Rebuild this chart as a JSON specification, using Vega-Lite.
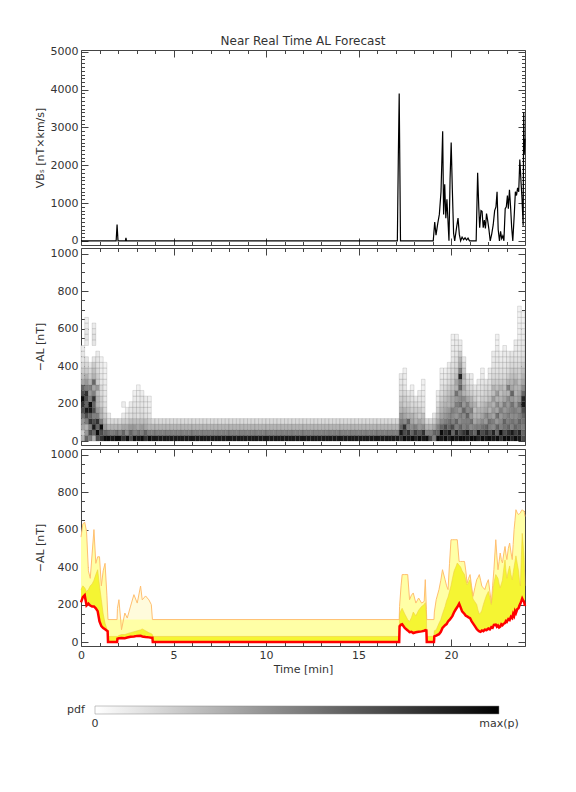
{
"$schema":"https://vega.github.io/schema/vega-lite/v6.json",
"background":"white",
"padding":{"left":34,"top":34,"right":10,"bottom":10},
"config":{
 "font":"DejaVu Sans",
 "view":{"stroke":null},
 "concat":{"spacing":1},
 "axis":{"grid":false,"labelFont":"DejaVu Sans","labelFontSize":11,"labelColor":"#333","titleFont":"DejaVu Sans","titleFontSize":11,"titleFontWeight":"normal","titleColor":"#333","domainColor":"#444","tickColor":"#444","domainWidth":1,"tickWidth":1,"labelOverlap":false,"labelFlush":false},
 "title":{"font":"DejaVu Sans","fontSize":12,"fontWeight":"normal","color":"#333"}
},
"datasets":{
 "vbs":[
  {"t":0,"v":0},{"t":1.9,"v":0},{"t":1.95,"v":430},{"t":2.0,"v":0},{"t":2.4,"v":0},{"t":2.43,"v":80},{"t":2.46,"v":0},
  {"t":17.1,"v":0},{"t":17.15,"v":2100},{"t":17.2,"v":3900},{"t":17.27,"v":0},
  {"t":19.04,"v":0},{"t":19.12,"v":500},{"t":19.19,"v":150},{"t":19.28,"v":450},{"t":19.37,"v":700},{"t":19.46,"v":1300},{"t":19.55,"v":2900},{"t":19.6,"v":700},{"t":19.66,"v":1500},{"t":19.72,"v":600},{"t":19.78,"v":1100},{"t":19.84,"v":500},{"t":19.89,"v":0},{"t":19.95,"v":1650},{"t":20.01,"v":2600},{"t":20.07,"v":1400},{"t":20.14,"v":200},{"t":20.2,"v":0},{"t":20.3,"v":350},{"t":20.38,"v":600},{"t":20.45,"v":170},{"t":20.52,"v":0},{"t":20.6,"v":100},{"t":20.68,"v":30},{"t":20.76,"v":80},{"t":20.84,"v":20},{"t":20.92,"v":70},{"t":21.0,"v":0},
  {"t":21.36,"v":0},{"t":21.44,"v":1800},{"t":21.5,"v":900},{"t":21.55,"v":350},{"t":21.62,"v":800},{"t":21.68,"v":780},{"t":21.74,"v":350},{"t":21.8,"v":550},{"t":21.86,"v":330},{"t":21.92,"v":720},{"t":21.98,"v":550},{"t":22.05,"v":300},{"t":22.12,"v":0},{"t":22.2,"v":180},{"t":22.28,"v":420},{"t":22.36,"v":800},{"t":22.43,"v":900},{"t":22.49,"v":1300},{"t":22.55,"v":300},{"t":22.62,"v":0},{"t":22.68,"v":250},{"t":22.74,"v":60},{"t":22.8,"v":130},{"t":22.86,"v":0},{"t":22.93,"v":850},{"t":22.99,"v":900},{"t":23.05,"v":1200},{"t":23.1,"v":850},{"t":23.16,"v":1350},{"t":23.22,"v":900},{"t":23.28,"v":350},{"t":23.34,"v":0},{"t":23.42,"v":700},{"t":23.48,"v":1300},{"t":23.54,"v":1200},{"t":23.6,"v":1400},{"t":23.66,"v":1300},{"t":23.72,"v":2150},{"t":23.78,"v":1600},{"t":23.84,"v":1100},{"t":23.9,"v":400},{"t":23.93,"v":3400},{"t":23.96,"v":2300},{"t":24.0,"v":2700}
 ],
 "heat":[
  {"t":0.1,"a":[15,45,75,105,135,165,195,225,255,285,315,345,375,405,435,465,495],"p":[0.3,0.2,0.35,0.4,0.55,0.7,0.8,0.95,0.7,0.6,0.35,0.25,0.2,0.15,0.1,0.1,0.08]},
  {"t":0.3,"a":[15,45,75,105,135,165,195,225,255,285,315,345,375,405,435,525,555,585,615,645],"p":[0.6,0.4,0.3,0.5,0.7,0.9,0.6,0.7,0.8,0.5,0.4,0.3,0.2,0.15,0.1,0.08,0.1,0.1,0.08,0.06]},
  {"t":0.5,"a":[15,45,75,105,135,165,195,225,255,285,315,345,375,405],"p":[0.5,0.7,0.5,0.8,0.6,0.9,0.95,0.5,0.4,0.5,0.3,0.2,0.15,0.1]},
  {"t":0.7,"a":[15,45,75,105,135,165,195,225,255,285,315,345,375,405,435,525,555,585,615],"p":[0.3,0.6,0.9,0.7,0.5,0.7,0.6,0.8,0.5,0.35,0.6,0.3,0.25,0.2,0.1,0.1,0.12,0.1,0.08]},
  {"t":0.9,"a":[15,45,75,105,135,165,195,225,255,285,315,345,375,405,435,465],"p":[0.7,0.95,0.6,0.8,0.5,0.4,0.3,0.3,0.25,0.4,0.2,0.2,0.15,0.12,0.1,0.08]},
  {"t":1.1,"a":[15,45,75,105,135,165,195,225,255,285,315,345,375,405,435],"p":[0.8,0.7,0.95,0.5,0.3,0.3,0.2,0.2,0.15,0.15,0.1,0.1,0.08,0.08,0.06]},
  {"t":1.3,"a":[15,45,75,105,135,165,195,225,255,285,315,345,375,405],"p":[0.95,0.6,0.4,0.3,0.2,0.15,0.12,0.1,0.1,0.08,0.08,0.06,0.06,0.05]},
  {"t":1.5,"a":[15,45,75,105,135],"p":[0.95,0.55,0.3,0.15,0.08]},
  {"t":1.7,"a":[15,45,75,105],"p":[0.9,0.5,0.3,0.15]},
  {"t":1.9,"a":[15,45,75,105],"p":[0.95,0.55,0.3,0.15]},
  {"t":2.1,"a":[15,45,75,105],"p":[0.95,0.5,0.3,0.15]},
  {"t":2.3,"a":[15,45,75,105,135,195],"p":[0.8,0.6,0.35,0.2,0.08,0.07]},
  {"t":2.5,"a":[15,45,75,105,135,165],"p":[0.95,0.45,0.35,0.2,0.1,0.07]},
  {"t":2.7,"a":[15,45,75,105,135,165,195],"p":[0.7,0.6,0.4,0.25,0.12,0.1,0.08]},
  {"t":2.9,"a":[15,45,75,105,135,165,195,225,255],"p":[0.95,0.5,0.4,0.25,0.15,0.12,0.1,0.08,0.06]},
  {"t":3.1,"a":[15,45,75,105,135,165,195,225,255,285],"p":[0.9,0.55,0.35,0.25,0.12,0.12,0.1,0.08,0.07,0.05]},
  {"t":3.3,"a":[15,45,75,105,135,165,195,225,255],"p":[0.95,0.5,0.4,0.25,0.15,0.12,0.1,0.1,0.07]},
  {"t":3.5,"a":[15,45,75,105,135,165,195,225],"p":[0.8,0.6,0.35,0.25,0.12,0.1,0.08,0.08]},
  {"t":3.7,"a":[15,45,75,105,135,165,195,225],"p":[0.95,0.5,0.3,0.2,0.1,0.08,0.07,0.06]},
  {"t":3.9,"a":[15,45,75,105],"p":[0.9,0.5,0.3,0.15]},
  {"t":4.1,"a":[15,45,75,105],"p":[0.9,0.5,0.3,0.15]},
  {"t":4.3,"a":[15,45,75,105],"p":[0.9,0.5,0.3,0.15]},
  {"t":4.5,"a":[15,45,75,105],"p":[0.9,0.5,0.3,0.15]},
  {"t":4.7,"a":[15,45,75,105],"p":[0.9,0.5,0.3,0.15]},
  {"t":4.9,"a":[15,45,75,105],"p":[0.9,0.5,0.3,0.15]},
  {"t":5.1,"a":[15,45,75,105],"p":[0.9,0.5,0.3,0.15]},
  {"t":5.3,"a":[15,45,75,105],"p":[0.9,0.5,0.3,0.15]},
  {"t":5.5,"a":[15,45,75,105],"p":[0.9,0.5,0.3,0.15]},
  {"t":5.7,"a":[15,45,75,105],"p":[0.9,0.5,0.3,0.15]},
  {"t":5.9,"a":[15,45,75,105],"p":[0.9,0.5,0.3,0.15]},
  {"t":6.1,"a":[15,45,75,105],"p":[0.9,0.5,0.3,0.15]},
  {"t":6.3,"a":[15,45,75,105],"p":[0.9,0.5,0.3,0.15]},
  {"t":6.5,"a":[15,45,75,105],"p":[0.9,0.5,0.3,0.15]},
  {"t":6.7,"a":[15,45,75,105],"p":[0.9,0.5,0.3,0.15]},
  {"t":6.9,"a":[15,45,75,105],"p":[0.9,0.5,0.3,0.15]},
  {"t":7.1,"a":[15,45,75,105],"p":[0.9,0.5,0.3,0.15]},
  {"t":7.3,"a":[15,45,75,105],"p":[0.9,0.5,0.3,0.15]},
  {"t":7.5,"a":[15,45,75,105],"p":[0.9,0.5,0.3,0.15]},
  {"t":7.7,"a":[15,45,75,105],"p":[0.9,0.5,0.3,0.15]},
  {"t":7.9,"a":[15,45,75,105],"p":[0.9,0.5,0.3,0.15]},
  {"t":8.1,"a":[15,45,75,105],"p":[0.9,0.5,0.3,0.15]},
  {"t":8.3,"a":[15,45,75,105],"p":[0.9,0.5,0.3,0.15]},
  {"t":8.5,"a":[15,45,75,105],"p":[0.9,0.5,0.3,0.15]},
  {"t":8.7,"a":[15,45,75,105],"p":[0.9,0.5,0.3,0.15]},
  {"t":8.9,"a":[15,45,75,105],"p":[0.9,0.5,0.3,0.15]},
  {"t":9.1,"a":[15,45,75,105],"p":[0.9,0.5,0.3,0.15]},
  {"t":9.3,"a":[15,45,75,105],"p":[0.9,0.5,0.3,0.15]},
  {"t":9.5,"a":[15,45,75,105],"p":[0.9,0.5,0.3,0.15]},
  {"t":9.7,"a":[15,45,75,105],"p":[0.9,0.5,0.3,0.15]},
  {"t":9.9,"a":[15,45,75,105],"p":[0.9,0.5,0.3,0.15]},
  {"t":10.1,"a":[15,45,75,105],"p":[0.9,0.5,0.3,0.15]},
  {"t":10.3,"a":[15,45,75,105],"p":[0.9,0.5,0.3,0.15]},
  {"t":10.5,"a":[15,45,75,105],"p":[0.9,0.5,0.3,0.15]},
  {"t":10.7,"a":[15,45,75,105],"p":[0.9,0.5,0.3,0.15]},
  {"t":10.9,"a":[15,45,75,105],"p":[0.9,0.5,0.3,0.15]},
  {"t":11.1,"a":[15,45,75,105],"p":[0.9,0.5,0.3,0.15]},
  {"t":11.3,"a":[15,45,75,105],"p":[0.9,0.5,0.3,0.15]},
  {"t":11.5,"a":[15,45,75,105],"p":[0.9,0.5,0.3,0.15]},
  {"t":11.7,"a":[15,45,75,105],"p":[0.9,0.5,0.3,0.15]},
  {"t":11.9,"a":[15,45,75,105],"p":[0.9,0.5,0.3,0.15]},
  {"t":12.1,"a":[15,45,75,105],"p":[0.9,0.5,0.3,0.15]},
  {"t":12.3,"a":[15,45,75,105],"p":[0.9,0.5,0.3,0.15]},
  {"t":12.5,"a":[15,45,75,105],"p":[0.9,0.5,0.3,0.15]},
  {"t":12.7,"a":[15,45,75,105],"p":[0.9,0.5,0.3,0.15]},
  {"t":12.9,"a":[15,45,75,105],"p":[0.9,0.5,0.3,0.15]},
  {"t":13.1,"a":[15,45,75,105],"p":[0.9,0.5,0.3,0.15]},
  {"t":13.3,"a":[15,45,75,105],"p":[0.9,0.5,0.3,0.15]},
  {"t":13.5,"a":[15,45,75,105],"p":[0.9,0.5,0.3,0.15]},
  {"t":13.7,"a":[15,45,75,105],"p":[0.9,0.5,0.3,0.15]},
  {"t":13.9,"a":[15,45,75,105],"p":[0.9,0.5,0.3,0.15]},
  {"t":14.1,"a":[15,45,75,105],"p":[0.9,0.5,0.3,0.15]},
  {"t":14.3,"a":[15,45,75,105],"p":[0.9,0.5,0.3,0.15]},
  {"t":14.5,"a":[15,45,75,105],"p":[0.9,0.5,0.3,0.15]},
  {"t":14.7,"a":[15,45,75,105],"p":[0.9,0.5,0.3,0.15]},
  {"t":14.9,"a":[15,45,75,105],"p":[0.9,0.5,0.3,0.15]},
  {"t":15.1,"a":[15,45,75,105],"p":[0.9,0.5,0.3,0.15]},
  {"t":15.3,"a":[15,45,75,105],"p":[0.9,0.5,0.3,0.15]},
  {"t":15.5,"a":[15,45,75,105],"p":[0.9,0.5,0.3,0.15]},
  {"t":15.7,"a":[15,45,75,105],"p":[0.9,0.5,0.3,0.15]},
  {"t":15.9,"a":[15,45,75,105],"p":[0.9,0.5,0.3,0.15]},
  {"t":16.1,"a":[15,45,75,105],"p":[0.9,0.5,0.3,0.15]},
  {"t":16.3,"a":[15,45,75,105],"p":[0.9,0.5,0.3,0.15]},
  {"t":16.5,"a":[15,45,75,105],"p":[0.9,0.5,0.3,0.15]},
  {"t":16.7,"a":[15,45,75,105],"p":[0.9,0.5,0.3,0.15]},
  {"t":16.9,"a":[15,45,75,105],"p":[0.9,0.5,0.3,0.15]},
  {"t":17.1,"a":[15,45,75,105],"p":[0.9,0.5,0.3,0.15]},
  {"t":17.3,"a":[15,45,75,105,135,165,195,225,255,285,315,345],"p":[0.8,0.9,0.6,0.5,0.4,0.3,0.25,0.2,0.15,0.12,0.1,0.08]},
  {"t":17.5,"a":[15,45,75,105,135,165,195,225,255,285,315,345,375],"p":[0.95,0.7,0.8,0.45,0.35,0.3,0.2,0.2,0.15,0.1,0.08,0.08,0.06]},
  {"t":17.7,"a":[15,45,75,105,135,165,195,225,255],"p":[0.9,0.8,0.5,0.6,0.3,0.25,0.2,0.15,0.1]},
  {"t":17.9,"a":[15,45,75,105,135,165,195,225,255,285],"p":[0.95,0.6,0.45,0.35,0.3,0.2,0.15,0.12,0.1,0.06]},
  {"t":18.1,"a":[15,45,75,105,135,165,195,225],"p":[0.85,0.75,0.5,0.3,0.25,0.2,0.15,0.1]},
  {"t":18.3,"a":[15,45,75,105,135,165,195,225,255],"p":[0.95,0.65,0.4,0.35,0.2,0.2,0.12,0.1,0.08]},
  {"t":18.5,"a":[15,45,75,105,135,165,195,225,255,285,315],"p":[0.9,0.8,0.45,0.3,0.25,0.15,0.12,0.1,0.08,0.06,0.06]},
  {"t":18.7,"a":[15,45,75,105],"p":[0.95,0.5,0.3,0.15]},
  {"t":18.9,"a":[15,45,75,105],"p":[0.7,0.5,0.3,0.15]},
  {"t":19.1,"a":[15,45,75,105,135],"p":[0.5,0.6,0.35,0.2,0.1]},
  {"t":19.3,"a":[15,45,75,105,135,165,195,225,255],"p":[0.95,0.6,0.5,0.35,0.25,0.2,0.15,0.1,0.08]},
  {"t":19.5,"a":[15,45,75,105,135,165,195,225,255,285,315,345,375],"p":[0.9,0.95,0.6,0.45,0.35,0.3,0.25,0.2,0.15,0.12,0.1,0.08,0.06]},
  {"t":19.7,"a":[15,45,75,105,135,165,195,225,255,285,315,345,375],"p":[0.95,0.8,0.7,0.5,0.4,0.35,0.3,0.25,0.2,0.15,0.1,0.08,0.06]},
  {"t":19.9,"a":[15,45,75,105,135,165,195,225,255,285,315,345,375,405],"p":[0.85,0.9,0.6,0.55,0.45,0.4,0.3,0.3,0.25,0.2,0.15,0.12,0.1,0.08]},
  {"t":20.1,"a":[15,45,75,105,135,165,195,225,255,285,315,345,375,405,435,465,495,525,555],"p":[0.95,0.6,0.7,0.5,0.45,0.5,0.35,0.35,0.3,0.25,0.2,0.18,0.15,0.12,0.1,0.08,0.08,0.06,0.06]},
  {"t":20.3,"a":[15,45,75,105,135,165,195,225,255,285,315,345,375,405,435,465,495,525,555],"p":[0.9,0.85,0.5,0.6,0.4,0.45,0.5,0.4,0.55,0.3,0.35,0.25,0.2,0.15,0.12,0.1,0.08,0.08,0.06]},
  {"t":20.5,"a":[15,45,75,105,135,165,195,225,255,285,315,345,375,405,435,465,495,525],"p":[0.95,0.7,0.6,0.45,0.5,0.4,0.55,0.45,0.4,0.6,0.5,0.85,0.5,0.35,0.3,0.2,0.1,0.08]},
  {"t":20.7,"a":[15,45,75,105,135,165,195,225,255,285,315,345,375,405,435],"p":[0.95,0.8,0.5,0.5,0.45,0.6,0.4,0.45,0.3,0.35,0.25,0.3,0.2,0.15,0.1]},
  {"t":20.9,"a":[15,45,75,105,135,165,195,225,255,285,315,345],"p":[0.9,0.9,0.55,0.5,0.6,0.45,0.5,0.35,0.25,0.2,0.15,0.1]},
  {"t":21.1,"a":[15,45,75,105,135,165,195,225,255,285,315,345],"p":[0.95,0.7,0.45,0.55,0.4,0.5,0.35,0.3,0.2,0.15,0.1,0.08]},
  {"t":21.3,"a":[15,45,75,105,135,165,195,225,255,285],"p":[0.95,0.6,0.5,0.35,0.3,0.25,0.3,0.2,0.15,0.1]},
  {"t":21.5,"a":[15,45,75,105,135,165,195,225,255,285,315],"p":[0.85,0.9,0.5,0.4,0.3,0.3,0.2,0.15,0.15,0.1,0.08]},
  {"t":21.7,"a":[15,45,75,105,135,165,195,225,255,285,315,345,375],"p":[0.95,0.7,0.55,0.45,0.35,0.3,0.25,0.2,0.15,0.12,0.1,0.08,0.06]},
  {"t":21.9,"a":[15,45,75,105,135,165,195,225,255,285,315],"p":[0.9,0.8,0.6,0.4,0.45,0.35,0.3,0.2,0.18,0.15,0.1]},
  {"t":22.1,"a":[15,45,75,105,135,165,195,225,255,285,315,345,375],"p":[0.95,0.7,0.5,0.55,0.4,0.3,0.35,0.25,0.2,0.15,0.12,0.1,0.08]},
  {"t":22.3,"a":[15,45,75,105,135,165,195,225,255,285,315,345,375,405,435,465],"p":[0.9,0.85,0.45,0.5,0.35,0.4,0.3,0.4,0.25,0.3,0.2,0.15,0.12,0.1,0.08,0.08]},
  {"t":22.5,"a":[15,45,75,105,135,165,195,225,255,285,315,345,375,405,435,465,495,525,555],"p":[0.95,0.6,0.6,0.4,0.55,0.35,0.45,0.3,0.4,0.25,0.2,0.15,0.12,0.1,0.1,0.08,0.08,0.06,0.06]},
  {"t":22.7,"a":[15,45,75,105,135,165,195,225,255,285,315,345,375,405,435,465],"p":[0.8,0.95,0.5,0.45,0.4,0.5,0.35,0.3,0.25,0.3,0.2,0.15,0.12,0.1,0.08,0.06]},
  {"t":22.9,"a":[15,45,75,105,135,165,195,225,255,285,315,345,375,405,435,465,495],"p":[0.95,0.7,0.55,0.6,0.45,0.4,0.5,0.35,0.3,0.25,0.2,0.15,0.12,0.1,0.08,0.08,0.06]},
  {"t":23.1,"a":[15,45,75,105,135,165,195,225,255,285,315,345,375,405,435,465],"p":[0.95,0.8,0.6,0.5,0.5,0.45,0.4,0.45,0.3,0.5,0.3,0.2,0.15,0.12,0.1,0.08]},
  {"t":23.3,"a":[15,45,75,105,135,165,195,225,255,285,315,345,375,405,435,465],"p":[0.85,0.9,0.5,0.55,0.45,0.5,0.55,0.4,0.6,0.35,0.3,0.25,0.2,0.15,0.12,0.1]},
  {"t":23.5,"a":[15,45,75,105,135,165,195,225,255,285,315,345,375,405,435,465,495,525],"p":[0.95,0.75,0.6,0.5,0.45,0.5,0.4,0.35,0.3,0.3,0.35,0.25,0.2,0.15,0.12,0.1,0.08,0.08]},
  {"t":23.7,"a":[15,45,75,105,135,165,195,225,255,285,315,345,375,405,435,465,495,525,555,585,615,645,675,705],"p":[0.9,0.85,0.55,0.6,0.5,0.45,0.55,0.4,0.35,0.3,0.25,0.2,0.18,0.15,0.12,0.1,0.08,0.08,0.06,0.06,0.06,0.05,0.05,0.05]},
  {"t":23.9,"a":[15,45,75,105,135,165,195,225,255,285,315,345,375,405,435,465,495,525,555,585,615,645,675],"p":[0.7,0.6,0.5,0.55,0.6,0.7,0.9,0.85,0.6,0.45,0.35,0.3,0.25,0.2,0.15,0.12,0.1,0.1,0.08,0.08,0.06,0.06,0.05]}
 ],
 "band":[
  {"t":0,"m":212,"a":280,"b":560,"c":560},
  {"t":0.1,"m":240,"a":300,"b":630,"c":630},
  {"t":0.2,"m":250,"a":290,"b":640,"c":640},
  {"t":0.3,"m":195,"a":270,"b":590,"c":590},
  {"t":0.4,"m":205,"a":280,"b":380,"c":380},
  {"t":0.5,"m":195,"a":300,"b":340,"c":340},
  {"t":0.6,"m":190,"a":310,"b":470,"c":470},
  {"t":0.7,"m":190,"a":330,"b":600,"c":600},
  {"t":0.8,"m":180,"a":360,"b":420,"c":420},
  {"t":0.9,"m":165,"a":386,"b":455,"c":455},
  {"t":1.0,"m":110,"a":300,"b":455,"c":455},
  {"t":1.1,"m":85,"a":226,"b":300,"c":300},
  {"t":1.2,"m":75,"a":150,"b":380,"c":380},
  {"t":1.3,"m":68,"a":100,"b":420,"c":420},
  {"t":1.4,"m":60,"a":70,"b":250,"c":250},
  {"t":1.44,"m":58,"a":65,"b":160,"c":160},
  {"t":1.46,"m":0,"a":30,"b":120,"c":120},
  {"t":1.95,"m":0,"a":30,"b":120,"c":120},
  {"t":1.97,"m":18,"a":30,"b":120,"c":180},
  {"t":2.05,"m":20,"a":35,"b":120,"c":226},
  {"t":2.19,"m":22,"a":40,"b":120,"c":66},
  {"t":2.37,"m":21,"a":40,"b":120,"c":155},
  {"t":2.5,"m":24,"a":45,"b":120,"c":128},
  {"t":2.68,"m":28,"a":50,"b":120,"c":192},
  {"t":2.86,"m":30,"a":55,"b":120,"c":253},
  {"t":3.04,"m":33,"a":60,"b":120,"c":208},
  {"t":3.22,"m":34,"a":65,"b":120,"c":299},
  {"t":3.31,"m":30,"a":70,"b":120,"c":225},
  {"t":3.49,"m":27,"a":60,"b":120,"c":246},
  {"t":3.67,"m":25,"a":50,"b":120,"c":225},
  {"t":3.8,"m":23,"a":45,"b":120,"c":200},
  {"t":3.86,"m":23,"a":40,"b":120,"c":120},
  {"t":3.88,"m":0,"a":30,"b":120,"c":120},
  {"t":17.2,"m":0,"a":30,"b":120,"c":120},
  {"t":17.22,"m":84,"a":150,"b":190,"c":190},
  {"t":17.3,"m":93,"a":170,"b":300,"c":300},
  {"t":17.36,"m":95,"a":180,"b":360,"c":360},
  {"t":17.5,"m":75,"a":150,"b":360,"c":360},
  {"t":17.66,"m":62,"a":120,"b":360,"c":360},
  {"t":17.76,"m":53,"a":110,"b":226,"c":226},
  {"t":17.86,"m":55,"a":130,"b":250,"c":250},
  {"t":17.96,"m":48,"a":160,"b":262,"c":262},
  {"t":18.1,"m":52,"a":140,"b":208,"c":208},
  {"t":18.25,"m":55,"a":170,"b":235,"c":235},
  {"t":18.41,"m":57,"a":190,"b":208,"c":208},
  {"t":18.55,"m":60,"a":200,"b":217,"c":217},
  {"t":18.61,"m":64,"a":210,"b":333,"c":333},
  {"t":18.67,"m":62,"a":150,"b":173,"c":173},
  {"t":18.69,"m":0,"a":30,"b":120,"c":120},
  {"t":19.08,"m":0,"a":30,"b":120,"c":120},
  {"t":19.1,"m":30,"a":60,"b":160,"c":160},
  {"t":19.2,"m":34,"a":65,"b":226,"c":226},
  {"t":19.35,"m":42,"a":100,"b":280,"c":280},
  {"t":19.45,"m":55,"a":120,"b":330,"c":330},
  {"t":19.54,"m":75,"a":150,"b":386,"c":386},
  {"t":19.68,"m":90,"a":190,"b":333,"c":333},
  {"t":19.76,"m":96,"a":220,"b":300,"c":300},
  {"t":19.84,"m":110,"a":240,"b":280,"c":280},
  {"t":19.92,"m":118,"a":270,"b":420,"c":420},
  {"t":20.0,"m":128,"a":300,"b":546,"c":546},
  {"t":20.08,"m":140,"a":340,"b":546,"c":546},
  {"t":20.17,"m":160,"a":380,"b":546,"c":546},
  {"t":20.26,"m":175,"a":400,"b":546,"c":546},
  {"t":20.34,"m":187,"a":422,"b":546,"c":546},
  {"t":20.44,"m":205,"a":410,"b":430,"c":430},
  {"t":20.52,"m":185,"a":400,"b":430,"c":430},
  {"t":20.6,"m":164,"a":380,"b":430,"c":430},
  {"t":20.73,"m":150,"a":360,"b":430,"c":430},
  {"t":20.8,"m":140,"a":330,"b":380,"c":380},
  {"t":20.87,"m":137,"a":305,"b":315,"c":315},
  {"t":20.95,"m":132,"a":320,"b":340,"c":340},
  {"t":21.03,"m":128,"a":332,"b":360,"c":360},
  {"t":21.11,"m":112,"a":280,"b":300,"c":300},
  {"t":21.19,"m":100,"a":230,"b":244,"c":244},
  {"t":21.29,"m":85,"a":215,"b":290,"c":290},
  {"t":21.39,"m":70,"a":200,"b":333,"c":333},
  {"t":21.46,"m":62,"a":170,"b":345,"c":345},
  {"t":21.53,"m":57,"a":150,"b":360,"c":360},
  {"t":21.6,"m":55,"a":155,"b":330,"c":330},
  {"t":21.67,"m":62,"a":170,"b":297,"c":297},
  {"t":21.75,"m":58,"a":200,"b":290,"c":290},
  {"t":21.83,"m":66,"a":225,"b":280,"c":280},
  {"t":21.92,"m":64,"a":250,"b":310,"c":310},
  {"t":22.02,"m":72,"a":270,"b":333,"c":333},
  {"t":22.1,"m":68,"a":235,"b":270,"c":270},
  {"t":22.18,"m":80,"a":200,"b":208,"c":208},
  {"t":22.25,"m":76,"a":260,"b":300,"c":300},
  {"t":22.32,"m":92,"a":315,"b":386,"c":386},
  {"t":22.42,"m":93,"a":360,"b":546,"c":546},
  {"t":22.48,"m":82,"a":350,"b":460,"c":460},
  {"t":22.54,"m":88,"a":340,"b":386,"c":386},
  {"t":22.6,"m":78,"a":310,"b":430,"c":430},
  {"t":22.66,"m":82,"a":290,"b":475,"c":475},
  {"t":22.72,"m":95,"a":310,"b":440,"c":440},
  {"t":22.78,"m":90,"a":330,"b":422,"c":422},
  {"t":22.85,"m":98,"a":390,"b":470,"c":470},
  {"t":22.92,"m":101,"a":438,"b":510,"c":510},
  {"t":22.97,"m":112,"a":380,"b":470,"c":470},
  {"t":23.02,"m":108,"a":340,"b":440,"c":440},
  {"t":23.1,"m":123,"a":380,"b":500,"c":500},
  {"t":23.17,"m":118,"a":406,"b":528,"c":528},
  {"t":23.24,"m":135,"a":360,"b":480,"c":480},
  {"t":23.31,"m":128,"a":332,"b":440,"c":440},
  {"t":23.36,"m":150,"a":370,"b":520,"c":520},
  {"t":23.41,"m":140,"a":400,"b":600,"c":600},
  {"t":23.46,"m":165,"a":430,"b":650,"c":650},
  {"t":23.51,"m":155,"a":460,"b":706,"c":706},
  {"t":23.58,"m":175,"a":420,"b":690,"c":690},
  {"t":23.65,"m":180,"a":380,"b":680,"c":680},
  {"t":23.7,"m":195,"a":330,"b":685,"c":685},
  {"t":23.75,"m":205,"a":300,"b":689,"c":689},
  {"t":23.8,"m":218,"a":450,"b":700,"c":700},
  {"t":23.85,"m":232,"a":580,"b":706,"c":706},
  {"t":23.9,"m":222,"a":520,"b":700,"c":700},
  {"t":23.95,"m":215,"a":450,"b":700,"c":700},
  {"t":24.0,"m":192,"a":300,"b":670,"c":670}
 ]
},
"resolve":{"scale":{"x":"independent","y":"independent"}},
"vconcat":[
 {
  "width":444,"height":195,
  "title":{"text":"Near Real Time AL Forecast","offset":-2},
  "data":{"name":"vbs"},
  "layer":[
   {"mark":{"type":"line","color":"#000000","strokeWidth":1.2},
    "encoding":{
     "x":{"field":"t","type":"quantitative","scale":{"domain":[0,24],"nice":false,"zero":false},
      "axis":{"orient":"bottom","values":[0,1,2,3,4,5,6,7,8,9,10,11,12,13,14,15,16,17,18,19,20,21,22,23,24],"labels":false,"title":null,"tickSize":{"condition":{"test":"datum.value % 5 === 0","value":-7},"value":-3.5}}},
     "y":{"field":"v","type":"quantitative","scale":{"domain":[-110,5050],"nice":false,"zero":false},
      "axis":{"orient":"left","values":[0,100,200,300,400,500,600,700,800,900,1000,1100,1200,1300,1400,1500,1600,1700,1800,1900,2000,2100,2200,2300,2400,2500,2600,2700,2800,2900,3000,3100,3200,3300,3400,3500,3600,3700,3800,3900,4000,4100,4200,4300,4400,4500,4600,4700,4800,4900,5000],"format":"d","labelExpr":"datum.value % 1000 === 0 ? datum.label : ''","labelPadding":10,"title":"VBₛ [nT×km/s]","titleX":-41,"titleBaseline":"middle","tickSize":{"condition":{"test":"datum.value % 1000 === 0","value":-7},"value":-3.5}}}
    }},
   {"mark":{"type":"line","opacity":0},
    "encoding":{
     "x":{"field":"t","type":"quantitative",
      "axis":{"orient":"top","values":[0,1,2,3,4,5,6,7,8,9,10,11,12,13,14,15,16,17,18,19,20,21,22,23,24],"labels":false,"title":null,"tickSize":{"condition":{"test":"datum.value % 5 === 0","value":-7},"value":-3.5}}},
     "y":{"field":"v","type":"quantitative",
      "axis":{"orient":"right","values":[0,100,200,300,400,500,600,700,800,900,1000,1100,1200,1300,1400,1500,1600,1700,1800,1900,2000,2100,2200,2300,2400,2500,2600,2700,2800,2900,3000,3100,3200,3300,3400,3500,3600,3700,3800,3900,4000,4100,4200,4300,4400,4500,4600,4700,4800,4900,5000],"labels":false,"title":null,"tickSize":{"condition":{"test":"datum.value % 1000 === 0","value":-7},"value":-3.5}}}
    }}
  ]
 },
 {
  "width":444,"height":197,
  "data":{"name":"heat"},
  "transform":[{"flatten":["a","p"]}],
  "layer":[
   {"mark":{"type":"rect","width":3.7,"height":5.6,"stroke":"#000000","strokeOpacity":0.18,"strokeWidth":0.6},
    "encoding":{
     "x":{"field":"t","type":"quantitative","scale":{"domain":[0,24],"nice":false,"zero":false},
      "axis":{"orient":"bottom","values":[0,1,2,3,4,5,6,7,8,9,10,11,12,13,14,15,16,17,18,19,20,21,22,23,24],"labels":false,"title":null,"tickSize":{"condition":{"test":"datum.value % 5 === 0","value":-7},"value":-3.5}}},
     "y":{"field":"a","type":"quantitative","scale":{"domain":[-21,1030],"nice":false,"zero":false},
      "axis":{"orient":"left","values":[0,50,100,150,200,250,300,350,400,450,500,550,600,650,700,750,800,850,900,950,1000],"format":"d","labelExpr":"datum.value % 200 === 0 ? datum.label : ''","labelPadding":10,"title":"−AL [nT]","titleX":-41,"titleBaseline":"middle","tickSize":{"condition":{"test":"datum.value % 200 === 0","value":-7},"value":-3.5}}},
     "fill":{"field":"p","type":"quantitative","scale":{"domain":[0,1],"range":["#ffffff","#000000"],"interpolate":"rgb"},
      "legend":{"type":"gradient","orient":"none","direction":"horizontal","legendX":-14,"legendY":656,"gradientLength":404,"gradientThickness":8,"title":"pdf","titleOrient":"left","titlePadding":10,"values":[0.0001,0.9999],"labelExpr":"datum.value < 0.5 ? '0' : 'max(p)'","gradientStrokeColor":"#888888","gradientStrokeWidth":0.5,"labelFontSize":11,"labelFont":"DejaVu Sans","labelColor":"#333","titleFontSize":11,"titleFont":"DejaVu Sans","titleFontWeight":"normal","titleColor":"#333","labelOffset":4}}
    }},
   {"mark":{"type":"rect","width":3.7,"height":5.6,"opacity":0},
    "encoding":{
     "x":{"field":"t","type":"quantitative",
      "axis":{"orient":"top","values":[0,1,2,3,4,5,6,7,8,9,10,11,12,13,14,15,16,17,18,19,20,21,22,23,24],"labels":false,"title":null,"tickSize":{"condition":{"test":"datum.value % 5 === 0","value":-7},"value":-3.5}}},
     "y":{"field":"a","type":"quantitative",
      "axis":{"orient":"right","values":[0,50,100,150,200,250,300,350,400,450,500,550,600,650,700,750,800,850,900,950,1000],"labels":false,"title":null,"tickSize":{"condition":{"test":"datum.value % 200 === 0","value":-7},"value":-3.5}}}
    }}
  ]
 },
 {
  "width":444,"height":197,
  "data":{"name":"band"},
  "layer":[
   {"mark":{"type":"area","color":"#fffbdc"},
    "encoding":{
     "x":{"field":"t","type":"quantitative","scale":{"domain":[0,24],"nice":false,"zero":false},
      "axis":{"orient":"bottom","values":[0,1,2,3,4,5,6,7,8,9,10,11,12,13,14,15,16,17,18,19,20,21,22,23,24],"format":"d","labelExpr":"datum.value % 5 === 0 ? datum.label : ''","labelPadding":10,"title":"Time [min]","titlePadding":0,"tickSize":{"condition":{"test":"datum.value % 5 === 0","value":-7},"value":-3.5}}},
     "y":{"field":"m","type":"quantitative","scale":{"domain":[-21,1030],"nice":false,"zero":false},
      "axis":{"orient":"left","values":[0,50,100,150,200,250,300,350,400,450,500,550,600,650,700,750,800,850,900,950,1000],"format":"d","labelExpr":"datum.value % 200 === 0 ? datum.label : ''","labelPadding":10,"title":"−AL [nT]","titleX":-41,"titleBaseline":"middle","tickSize":{"condition":{"test":"datum.value % 200 === 0","value":-7},"value":-3.5}}},
     "y2":{"field":"c"}
    }},
   {"mark":{"type":"area","color":"#ffffa6"},
    "encoding":{
     "x":{"field":"t","type":"quantitative","axis":null},
     "y":{"field":"m","type":"quantitative","axis":null},
     "y2":{"field":"b"}
    }},
   {"mark":{"type":"area","color":"#f5f533"},
    "encoding":{
     "x":{"field":"t","type":"quantitative","axis":null},
     "y":{"field":"m","type":"quantitative","axis":null},
     "y2":{"field":"a"}
    }},
   {"mark":{"type":"line","color":"#ffbf70","strokeWidth":1},
    "encoding":{
     "x":{"field":"t","type":"quantitative","axis":null},
     "y":{"field":"c","type":"quantitative","axis":null}
    }},
   {"mark":{"type":"line","color":"#f0d040","strokeWidth":0.6},
    "encoding":{
     "x":{"field":"t","type":"quantitative","axis":null},
     "y":{"field":"a","type":"quantitative","axis":null}
    }},
   {"mark":{"type":"line","color":"#ff0000","strokeWidth":2.5},
    "encoding":{
     "x":{"field":"t","type":"quantitative",
      "axis":{"orient":"top","values":[0,1,2,3,4,5,6,7,8,9,10,11,12,13,14,15,16,17,18,19,20,21,22,23,24],"labels":false,"title":null,"tickSize":{"condition":{"test":"datum.value % 5 === 0","value":-7},"value":-3.5}}},
     "y":{"field":"m","type":"quantitative",
      "axis":{"orient":"right","values":[0,50,100,150,200,250,300,350,400,450,500,550,600,650,700,750,800,850,900,950,1000],"labels":false,"title":null,"tickSize":{"condition":{"test":"datum.value % 200 === 0","value":-7},"value":-3.5}}}
    }}
  ]
 }
]
}
